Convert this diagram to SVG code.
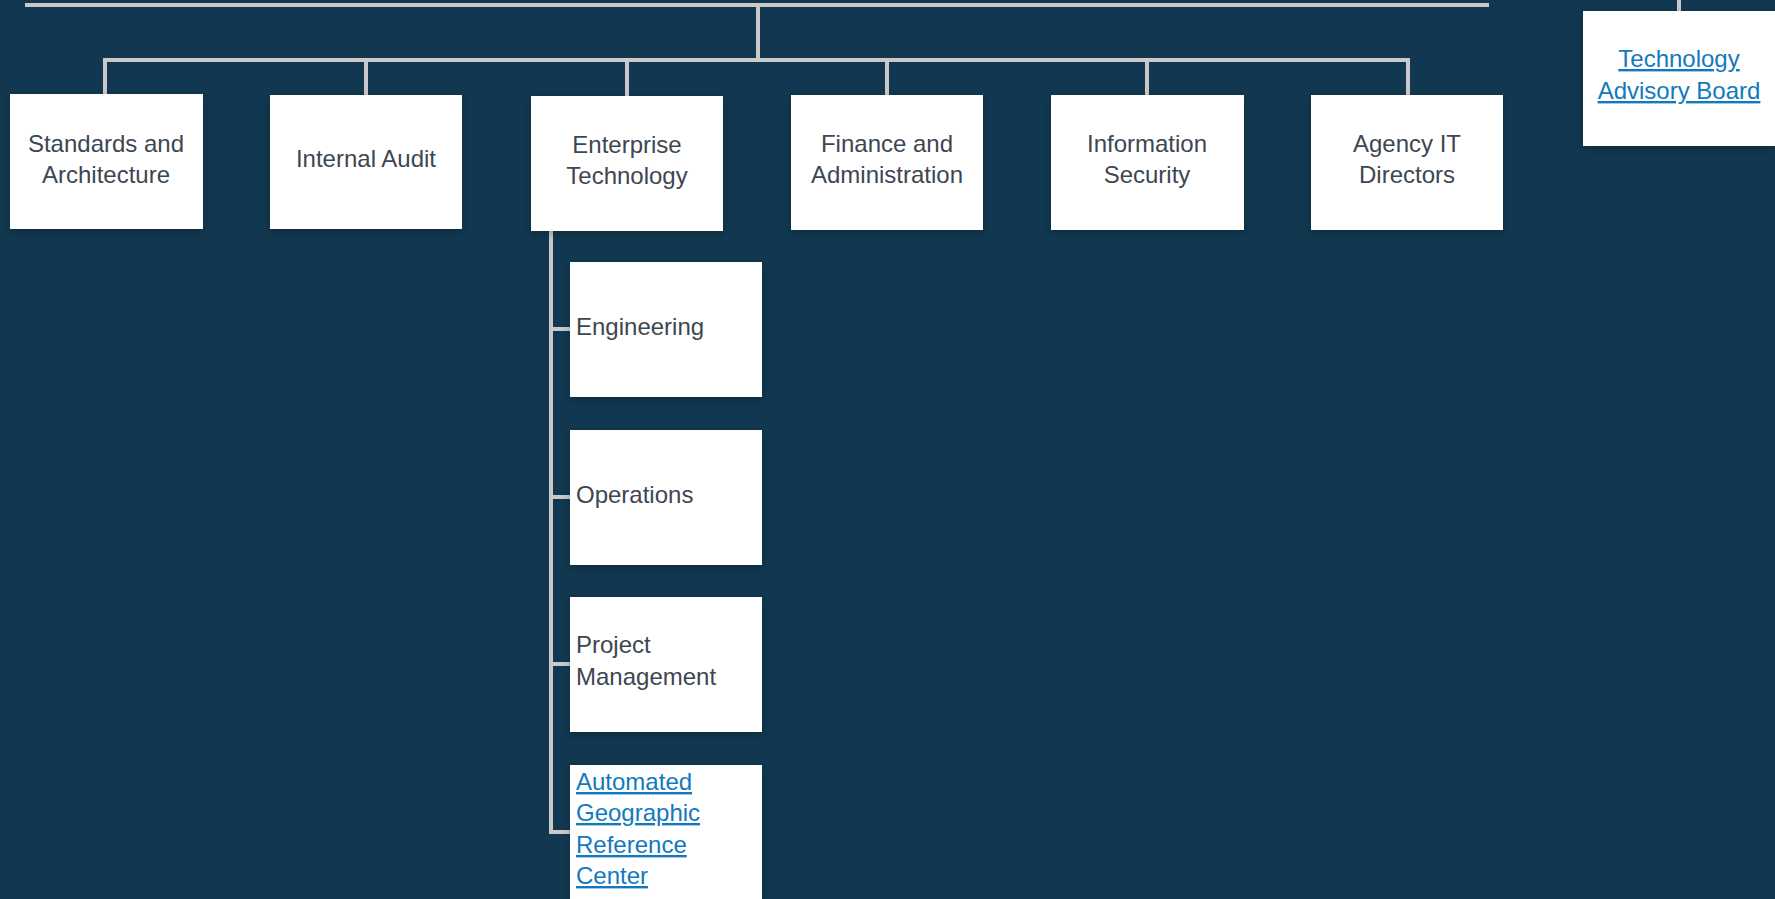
<svg xmlns="http://www.w3.org/2000/svg" width="1775" height="899" viewBox="0 0 1775 899">
<style>
.bg{fill:#113850}
.box{fill:#ffffff;filter:url(#sh)}
.ln{fill:none;stroke:#c9c9c9;stroke-width:4}
.t{font-family:"Liberation Sans",Arial,sans-serif;font-size:24px;fill:#3e4651}
.c{text-anchor:middle}
.lk{font-family:"Liberation Sans",Arial,sans-serif;font-size:24px;fill:#1279be;text-decoration:underline}
</style>
<defs>
<filter id="sh" x="-10%" y="-10%" width="120%" height="130%">
<feDropShadow dx="0" dy="3" stdDeviation="4" flood-color="#000" flood-opacity="0.25"/>
</filter>
</defs>
<rect class="bg" x="0" y="0" width="1775" height="899"/>
<g id="connectors">
<path class="ln" d="M25 5 H1489"/>
<path class="ln" d="M1679 0 V11"/>
<path class="ln" d="M758 5 V60"/>
<path class="ln" d="M105 95 V60 H1408 V95"/>
<path class="ln" d="M366 60 V95 M627 60 V96 M887 60 V95 M1147 60 V95"/>
<path class="ln" d="M551 231 V832 H570"/>
<path class="ln" d="M551 329 H570 M551 497 H570 M551 664 H570"/>
</g>
<g id="n-standards"><rect class="box" x="10" y="94" width="193" height="135"/>
<text class="t c" x="106" y="152">Standards and</text><text class="t c" x="106" y="183">Architecture</text></g>
<g id="n-audit"><rect class="box" x="270" y="95" width="192" height="134"/>
<text class="t c" x="366" y="167">Internal Audit</text></g>
<g id="n-enterprise"><rect class="box" x="531" y="96" width="192" height="135"/>
<text class="t c" x="627" y="153">Enterprise</text><text class="t c" x="627" y="184">Technology</text></g>
<g id="n-finance"><rect class="box" x="791" y="95" width="192" height="135"/>
<text class="t c" x="887" y="152">Finance and</text><text class="t c" x="887" y="183">Administration</text></g>
<g id="n-security"><rect class="box" x="1051" y="95" width="193" height="135"/>
<text class="t c" x="1147" y="152">Information</text><text class="t c" x="1147" y="183">Security</text></g>
<g id="n-agency"><rect class="box" x="1311" y="95" width="192" height="135"/>
<text class="t c" x="1407" y="152">Agency IT</text><text class="t c" x="1407" y="183">Directors</text></g>
<g id="n-tab"><rect class="box" x="1583" y="11" width="194" height="135"/>
<text class="lk c" x="1679" y="67">Technology </text><text class="lk c" x="1679" y="99">Advisory Board</text></g>
<g id="n-engineering"><rect class="box" x="570" y="262" width="192" height="135"/>
<text class="t" x="576" y="335">Engineering</text></g>
<g id="n-operations"><rect class="box" x="570" y="430" width="192" height="135"/>
<text class="t" x="576" y="503">Operations</text></g>
<g id="n-pm"><rect class="box" x="570" y="597" width="192" height="135"/>
<text class="t" x="576" y="653">Project</text><text class="t" x="576" y="685">Management</text></g>
<g id="n-agrc"><rect class="box" x="570" y="765" width="192" height="150"/>
<text class="lk" x="576" y="790">Automated</text><text class="lk" x="576" y="821">Geographic</text><text class="lk" x="576" y="853">Reference</text><text class="lk" x="576" y="884">Center</text></g>
</svg>
